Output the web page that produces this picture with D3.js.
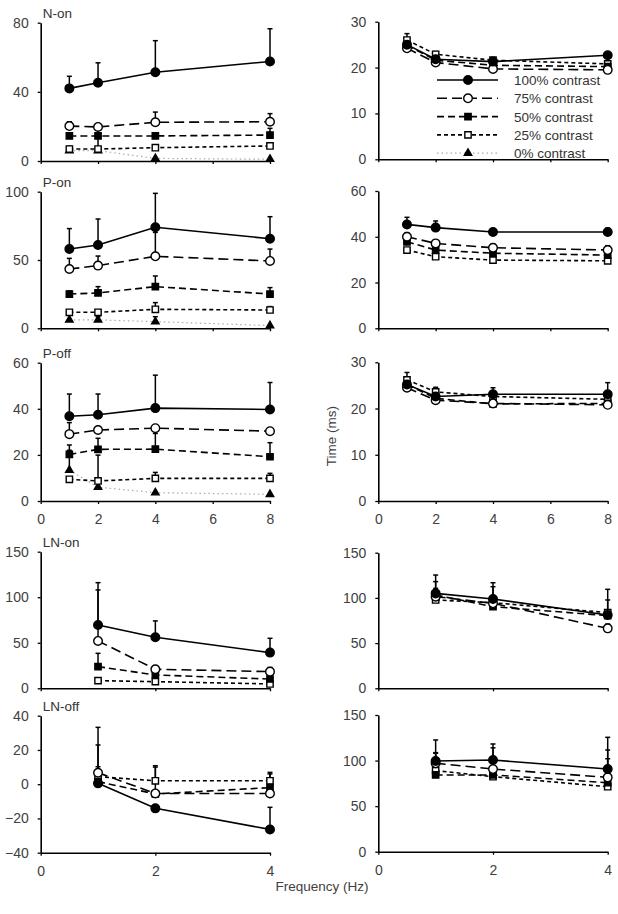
<!DOCTYPE html>
<html>
<head>
<meta charset="utf-8">
<script src="https://cdn.jsdelivr.net/npm/d3@7"></script>
<style>
  body { margin: 0; background: #fff; }
  text { font-family: "Liberation Sans", Arial, sans-serif; }
</style>
</head>
<body>
<div id="chart"></div>
<script>
// series: 100%, 75%, 50%, 25%, 0% contrast
var contrasts = ["100% contrast", "75% contrast", "50% contrast", "25% contrast", "0% contrast"];
var freqsA = [1, 2, 4, 8];
var freqsB = [1, 2, 4];

// N-on
var nOnAmp = [[42, 45.3, 51.3, 57.6], [20.2, 19.7, 22.4, 22.7], [14.5, 14.5, 14.5, 15], [6.9, 6.9, 7.7, 8.7], [6, 6, 1.5, 1]];
var nOnAmpErr = [[49, 56.8, 69.6, 76.5], [22.7, null, 28.3, 27.4], [16, 20, null, 18.9], [8.5, 14, null, null], [null, null, null, null]];
var nOnTime = [[25, 21.8, 21.3, 22.7], [24.2, 21.1, 19.7, 19.5], [24.9, 21.6, 20.5, 20.2], [26, 22.9, 21.6, 20.8]];
var nOnTimeErr = [[null, null, null, null], [null, null, null, null], [null, null, null, null], [27.4, 23.5, 22, null]];

// P-on
var pOnAmp = [[58, 61, 74, 65.6], [43.4, 45.9, 52.7, 49.3], [25.1, 25.9, 30.5, 25.1], [11.7, 11.7, 13.9, 13.4], [6.1, 6.1, 4.9, 2]];
var pOnAmpErr = [[73, 80, 98.8, 81.7], [51.2, 52.9, 70.2, 58], [27.3, 30.5, 38.3, 29.8], [null, null, 18.8, 15.9], [null, 8.5, 8.5, null]];
var pOnTime = [[45.4, 44, 42.1, 42.1], [40, 37.1, 35.2, 34.2], [37.8, 34.2, 32.8, 32], [34.2, 31.3, 29.8, 29.5]];
var pOnTimeErr = [[48.5, 46.9, null, 43.7], [41.8, null, 36.8, 36.1], [null, null, null, null], [null, null, null, null]];

// P-off
var pOffAmp = [[36.8, 37.4, 40.3, 39.7], [29, 30.8, 31.6, 30.3], [20.2, 22.4, 22.5, 19.2], [9.4, 8.7, 9.8, 9.8], [13.4, 6, 3.6, 2.9]];
var pOffAmpErr = [[46.4, 46.4, 54.6, 51.4], [34, null, null, null], [24.3, 27.2, 29.3, 25.3], [null, 19.9, 12.4, 12], [22, null, null, null]];
var pOffTime = [[25.2, 22.6, 23.1, 23.1], [24.5, 21.8, 21.1, 20.8], [25.2, 22.2, 21, 21.1], [26.2, 23.6, 22.6, 22]];
var pOffTimeErr = [[null, null, 24.5, 25.6], [null, null, null, null], [null, null, null, null], [27.8, 24.6, null, null]];

// LN-on
var lnOnAmp = [[69.5, 56, 39.2], [52, 20.9, 18.3], [23.8, 14.6, 10.2], [8.4, 7.3, 4.8]];
var lnOnAmpErr = [[116, 74, 54.9], [108, null, 23], [38.4, null, null], [null, null, null]];
var lnOnTime = [[105, 98.8, 81.1], [101.4, 94, 66.3], [103.2, 90.3, 80.4], [97.7, 94.7, 83.7]];
var lnOnTimeErr = [[125.3, 116.8, 109.5], [null, null, 71], [118, 112.4, 97.7], [110.6, null, null]];

// LN-off
var lnOffAmp = [[0.5, -14.1, -26.4], [6.7, -5.4, -5.4], [1.5, -5.7, -2], [4.4, 2, 2]];
var lnOffAmpErr = [[null, null, -13.5], [33.2, 10, null], [22.9, null, 6], [10.2, 10.8, 6.9]];
var lnOffTime = [[99.5, 100.6, 90.7], [97, 90.7, 81.6], [84.2, 84.2, 75.7], [89, 82.3, 71.3]];
var lnOffTimeErr = [[122.6, 118.2, 125.5], [null, null, null], [108, 114, 111.6], [108.7, null, 102]];

var svgWidth = 618;
var svgHeight = 914;

var svg = d3.select("#chart")
  .append("svg")
  .attr("width", svgWidth)
  .attr("height", svgHeight);

// line / marker style per contrast
var styles = [
  { dash: null, stroke: "#000", symbol: d3.symbolCircle, size: 58, fill: "#000" },
  { dash: "10,5", stroke: "#000", symbol: d3.symbolCircle, size: 58, fill: "#fff" },
  { dash: "7,4", stroke: "#000", symbol: d3.symbolSquare, size: 40, fill: "#000" },
  { dash: "4,3", stroke: "#000", symbol: d3.symbolSquare, size: 40, fill: "#fff" },
  { dash: "1.5,3", stroke: "#aaa", symbol: d3.symbolTriangle, size: 24, fill: "#000" }
];

// panel layout: pixel boxes for each sub chart
var panels = [
  { title: "N-on", x: [40.7, 270], y: [161, 22.7], xMax: 8, freqs: freqsA, yDom: [0, 80], ticks: [0, 40, 80], vals: nOnAmp, errs: nOnAmpErr, xLabels: false },
  { x: [378.3, 607.7], y: [159.3, 21.7], xMax: 8, freqs: freqsA, yDom: [0, 30], ticks: [0, 10, 20, 30], vals: nOnTime, errs: nOnTimeErr, xLabels: false, legend: true },
  { title: "P-on", x: [40.7, 270], y: [328.3, 191.7], xMax: 8, freqs: freqsA, yDom: [0, 100], ticks: [0, 50, 100], vals: pOnAmp, errs: pOnAmpErr, xLabels: false },
  { x: [378.3, 607.7], y: [328.3, 191], xMax: 8, freqs: freqsA, yDom: [0, 60], ticks: [0, 20, 40, 60], vals: pOnTime, errs: pOnTimeErr, xLabels: false },
  { title: "P-off", x: [40.7, 270], y: [501, 362.7], xMax: 8, freqs: freqsA, yDom: [0, 60], ticks: [0, 20, 40, 60], vals: pOffAmp, errs: pOffAmpErr, xLabels: true },
  { x: [378.3, 607.7], y: [501, 362.3], xMax: 8, freqs: freqsA, yDom: [0, 30], ticks: [0, 10, 20, 30], vals: pOffTime, errs: pOffTimeErr, xLabels: true },
  { title: "LN-on", x: [40.7, 270], y: [688.3, 551.7], xMax: 4, freqs: freqsB, yDom: [0, 150], ticks: [0, 50, 100, 150], vals: lnOnAmp, errs: lnOnAmpErr, xLabels: false },
  { x: [378.3, 607.7], y: [688.3, 552.7], xMax: 4, freqs: freqsB, yDom: [0, 150], ticks: [0, 50, 100, 150], vals: lnOnTime, errs: lnOnTimeErr, xLabels: false },
  { title: "LN-off", x: [40.7, 270], y: [852.7, 715.7], xMax: 4, freqs: freqsB, yDom: [-40, 40], ticks: [-40, -20, 0, 20, 40], vals: lnOffAmp, errs: lnOffAmpErr, xLabels: true },
  { x: [378.3, 607.7], y: [851.7, 715], xMax: 4, freqs: freqsB, yDom: [0, 150], ticks: [0, 50, 100, 150], vals: lnOffTime, errs: lnOffTimeErr, xLabels: true }
];

panels.forEach(function (p) {
  var xScale = d3.scaleLinear().domain([0, p.xMax]).range(p.x);
  var yScale = d3.scaleLinear().domain(p.yDom).range(p.y);
  var g = svg.append("g");

  // axes
  var xTicks = p.xMax === 8 ? [0, 2, 4, 6, 8] : [0, 2, 4];
  var bottomAxis = d3.axisBottom(xScale)
    .tickValues(xTicks)
    .tickSize(3)
    .tickSizeOuter(0)
    .tickPadding(10)
    .tickFormat(p.xLabels ? d3.format("d") : "");
  var leftAxis = d3.axisLeft(yScale)
    .tickValues(p.ticks)
    .tickSize(3)
    .tickSizeOuter(0)
    .tickPadding(9)
    .tickFormat(d3.format("d"));

  var xAxis = g.append("g")
    .attr("transform", `translate(0, ${p.y[0]})`)
    .call(bottomAxis);
  var yAxis = g.append("g")
    .attr("transform", `translate(${p.x[0]}, 0)`)
    .call(leftAxis);

  [xAxis, yAxis].forEach(function (a) {
    a.select(".domain").attr("stroke", "#000").attr("stroke-width", 1.6);
    a.selectAll(".tick line").attr("stroke", "#000").attr("stroke-width", 1.3);
    a.selectAll(".tick text")
      .attr("fill", "#404040")
      .style("font-size", "14px")
      .style("font-family", "'Liberation Sans', Arial, sans-serif");
  });

  if (p.title) {
    g.append("text")
      .attr("x", p.x[0] + 2)
      .attr("y", p.y[1] - 5)
      .attr("fill", "#333")
      .style("font-size", "13.5px")
      .text(p.title);
  }

  // error bars (upper only, with cap)
  p.errs.forEach(function (row, si) {
    row.forEach(function (e, i) {
      if (e === null || p.vals[si][i] === null || p.vals[si][i] === undefined) return;
      var cx = xScale(p.freqs[i]);
      g.append("line")
        .attr("x1", cx).attr("x2", cx)
        .attr("y1", yScale(p.vals[si][i]))
        .attr("y2", yScale(e))
        .attr("stroke", "#000")
        .attr("stroke-width", 1.5);
      g.append("line")
        .attr("x1", cx - 2.5).attr("x2", cx + 2.5)
        .attr("y1", yScale(e)).attr("y2", yScale(e))
        .attr("stroke", "#000")
        .attr("stroke-width", 1.5);
    });
  });

  // lines, drawn from 0% up so solid line lands on top
  var line = d3.line()
    .defined(d => d.v !== null)
    .x(d => xScale(d.f))
    .y(d => yScale(d.v));

  for (var si = p.vals.length - 1; si >= 0; si--) {
    var pts = p.freqs.map((f, i) => ({ f: f, v: p.vals[si][i] }));
    var st = styles[si];
    g.append("path")
      .datum(pts)
      .attr("d", line)
      .attr("fill", "none")
      .attr("stroke", st.stroke)
      .attr("stroke-width", si === 4 ? 1.2 : 1.6)
      .attr("stroke-dasharray", st.dash);
  }

  for (var sj = p.vals.length - 1; sj >= 0; sj--) {
    var st2 = styles[sj];
    var sym = d3.symbol().type(st2.symbol).size(st2.size);
    g.selectAll(null)
      .data(p.freqs.map((f, i) => ({ f: f, v: p.vals[sj][i] })).filter(d => d.v !== null))
      .enter()
      .append("path")
      .attr("d", sym)
      .attr("transform", d => `translate(${xScale(d.f)}, ${yScale(d.v)})`)
      .attr("fill", st2.fill)
      .attr("stroke", "#000")
      .attr("stroke-width", 1.4);
  }

  // legend in top right panel
  if (p.legend) {
    var lg = g.append("g");
    contrasts.forEach(function (c, i) {
      var ly = 80 + i * 18.3;
      var st = styles[i];
      lg.append("line")
        .attr("x1", 437).attr("x2", 498)
        .attr("y1", ly).attr("y2", ly)
        .attr("stroke", st.stroke)
        .attr("stroke-width", i === 4 ? 1.2 : 1.6)
        .attr("stroke-dasharray", st.dash);
      lg.append("path")
        .attr("d", d3.symbol().type(st.symbol).size(st.size))
        .attr("transform", `translate(468, ${ly})`)
        .attr("fill", st.fill)
        .attr("stroke", "#000")
        .attr("stroke-width", 1.4);
      lg.append("text")
        .attr("x", 514)
        .attr("y", ly + 5)
        .attr("fill", "#333")
        .style("font-size", "13.5px")
        .text(c);
    });
  }
});

// shared axis titles
svg.append("text")
  .attr("x", 322)
  .attr("y", 891)
  .attr("text-anchor", "middle")
  .attr("fill", "#404040")
  .style("font-size", "13.5px")
  .text("Frequency (Hz)");

svg.append("text")
  .attr("transform", "translate(336, 436) rotate(-90)")
  .attr("text-anchor", "middle")
  .attr("fill", "#404040")
  .style("font-size", "13.5px")
  .text("Time (ms)");
</script>
</body>
</html>
